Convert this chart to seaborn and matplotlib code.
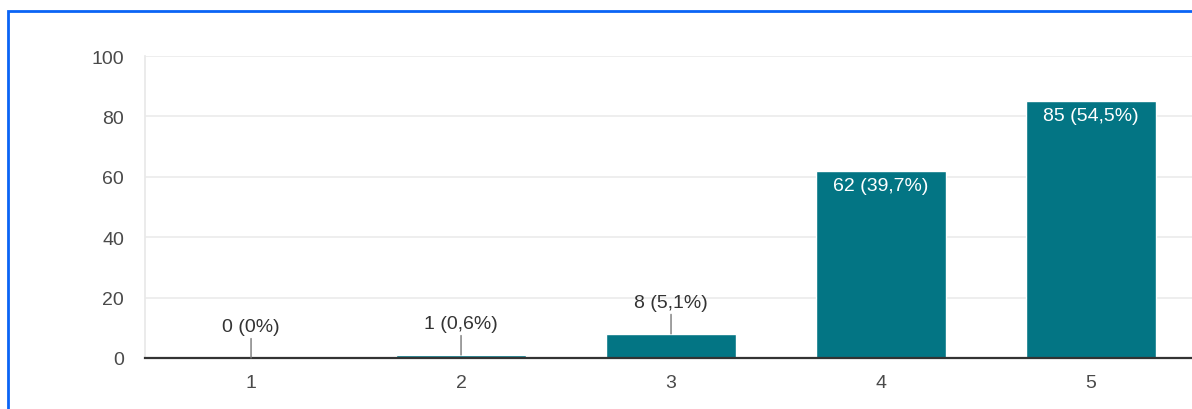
import matplotlib
matplotlib.use("Agg")
import matplotlib.pyplot as plt
from matplotlib.patches import Rectangle
import seaborn as sns
import pandas as pd

# Survey answers on a 1-5 scale
ratings = ["1", "2", "3", "4", "5"]
counts = [0, 1, 8, 62, 85]
labels = ["0 (0%)", "1 (0,6%)", "8 (5,1%)", "62 (39,7%)", "85 (54,5%)"]
y_ticks = [0, 20, 40, 60, 80, 100]

BAR = "#037584"
TEXT = "#333333"
TICK = "#4a4a4a"

sns.set_theme(style="white")
plt.rcParams["font.family"] = ["Liberation Sans", "DejaVu Sans"]

df = pd.DataFrame({"rating": ratings, "count": counts})

fig = plt.figure(figsize=(11.92, 4.10), dpi=100)
ax = fig.add_axes([145 / 1192, 51 / 410, (1196 - 145) / 1192, (353 - 51) / 410])

sns.barplot(data=df, x="rating", y="count", color=BAR, width=0.62,
            saturation=1, ax=ax, zorder=3)

ax.set_xlim(-0.505, 4.5)
ax.set_ylim(0, 100)
ax.set_yticks(y_ticks)
ax.set_yticklabels([str(t) for t in y_ticks])
ax.set_xlabel("")
ax.set_ylabel("")
ax.yaxis.grid(True, color="#ebebeb", linewidth=1.2, zorder=0)
ax.set_axisbelow(True)

ax.tick_params(axis="y", length=0, pad=15, labelsize=14, labelcolor=TICK)
ax.tick_params(axis="x", length=0, pad=11.5, labelsize=14, labelcolor=TICK)

for side in ("top", "right"):
    ax.spines[side].set_visible(False)
ax.spines["left"].set_color("#e8e8e8")
ax.spines["left"].set_linewidth(1.2)
ax.spines["bottom"].set_color("#333333")
ax.spines["bottom"].set_linewidth(1.6)
ax.spines["bottom"].set_zorder(5)

# Value labels: inside tall bars, above short ones with a leader line
for i, (v, lab) in enumerate(zip(counts, labels)):
    if v >= 30:
        ax.annotate(lab, xy=(i, v), xytext=(0, -10.5), textcoords="offset points",
                    ha="center", va="center", color="white", fontsize=14, zorder=6)
    else:
        ax.annotate("", xy=(i, v), xytext=(0, 14), textcoords="offset points",
                    arrowprops=dict(arrowstyle="-", color="#777777", lw=1.0,
                                    shrinkA=0, shrinkB=0), zorder=6)
        ax.annotate(lab, xy=(i, v), xytext=(0, 22.5), textcoords="offset points",
                    ha="center", va="center", color=TEXT, fontsize=14, zorder=6)

# Blue frame around the card
fig.patches.append(Rectangle((8 / 1192, -0.1), 1.2, (410 - 12) / 410 + 0.1,
                             transform=fig.transFigure, fill=False,
                             edgecolor="#0a64f5", linewidth=2.0, zorder=10))

fig.savefig("out.png", dpi=100)
